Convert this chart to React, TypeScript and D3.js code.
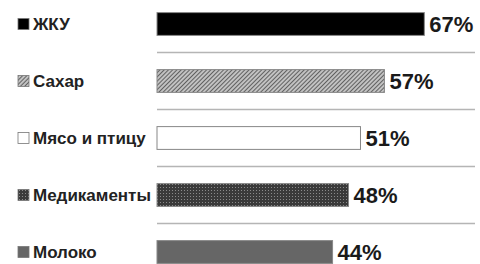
import React from "react";
import * as d3 from "d3";

const categories = ["ЖКУ", "Сахар", "Мясо и птицу", "Медикаменты", "Молоко"];
const values = [67, 57, 51, 48, 44];
const fills = ["#000000", "url(#hatch)", "#ffffff", "url(#dots)", "#666666"];

const width = 480;
const height = 264;
const barLeft = 157;

const App = () => {
  const x = d3.scaleLinear().domain([0, 100]).range([barLeft, barLeft + 399]);
  const y = d3
    .scaleBand()
    .domain(categories)
    .range([-4.5, 280.5])
    .paddingInner(0.6)
    .paddingOuter(0.3);

  const rowStep = y.step();

  return (
    <svg
      width={width}
      height={height}
      style={{ position: "absolute", left: 0, top: 0, background: "#fff" }}
      fontFamily="'Liberation Sans', Arial, sans-serif"
    >
      <defs>
        <pattern id="hatch" width="3" height="3" patternUnits="userSpaceOnUse" patternTransform="rotate(45)">
          <rect width="3" height="3" fill="#c2c2c2" />
          <line x1="0" y1="0" x2="0" y2="3" stroke="#404040" strokeWidth="1.5" />
        </pattern>
        <pattern id="dots" width="3" height="3" patternUnits="userSpaceOnUse">
          <rect width="3" height="3" fill="#3a3a3a" />
          <rect x="1" y="1" width="1" height="1" fill="#8a8a8a" />
        </pattern>
      </defs>

      {categories.slice(0, -1).map((c) => {
        const ly = (y(c) as number) + y.bandwidth() / 2 + rowStep / 2;
        return (
          <line key={"sep" + c} x1={barLeft} x2={475} y1={ly} y2={ly} stroke="#b5b5b5" strokeWidth={1.5} />
        );
      })}

      {categories.map((c, i) => {
        const by = y(c) as number;
        const cy = by + y.bandwidth() / 2;
        return (
          <g key={c}>
            <rect x={18} y={cy - 5.5} width={11} height={11} fill={fills[i]} stroke="#777" strokeWidth={0.8} />
            <text x={33} y={cy} dy="0.36em" fontSize={17} fontWeight="bold" fill="#222">
              {c}
            </text>
            <rect
              x={x(0)}
              y={by}
              width={x(values[i]) - x(0)}
              height={y.bandwidth()}
              fill={fills[i]}
              stroke="#888"
              strokeWidth={1}
            />
            <text x={x(values[i]) + 5} y={cy} dy="0.36em" fontSize={22} fontWeight="bold" fill="#1a1a1a">
              {values[i] + "%"}
            </text>
          </g>
        );
      })}
    </svg>
  );
};

export default App;
